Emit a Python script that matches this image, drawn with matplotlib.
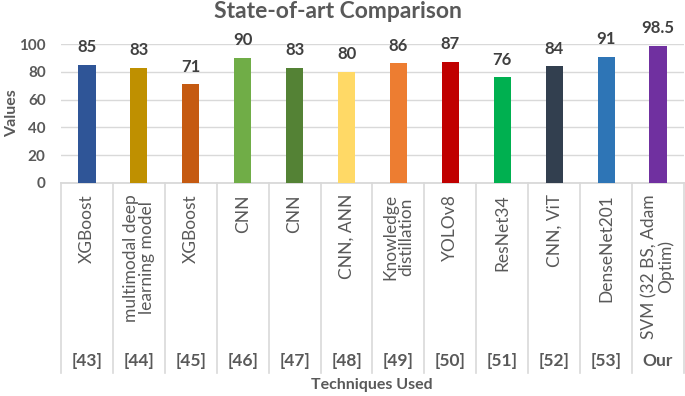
import matplotlib.pyplot as plt
import matplotlib.transforms as mtransforms
import numpy as np

# data
techniques = ["XGBoost", "multimodal deep\nlearning model", "XGBoost", "CNN", "CNN",
              "CNN, ANN", "Knowledge\ndistillation", "YOLOv8", "ResNet34", "CNN, ViT",
              "DenseNet201", "SVM (32 BS, Adam\nOptim)"]
refs = ["[43]", "[44]", "[45]", "[46]", "[47]", "[48]", "[49]", "[50]", "[51]",
        "[52]", "[53]", "Our"]
values = [85, 83, 71, 90, 83, 80, 86, 87, 76, 84, 91, 98.5]
value_labels = ["85", "83", "71", "90", "83", "80", "86", "87", "76", "84", "91", "98.5"]
colors = ["#2F5597", "#BF9000", "#C55A11", "#70AD47", "#548235", "#FFD966",
          "#ED7D31", "#C00000", "#00B050", "#323F4F", "#2E75B6", "#7030A0"]

plt.rcParams["font.family"] = ["Lato", "DejaVu Sans"]
txt = "#595959"
grid = "#D9D9D9"

fig = plt.figure(figsize=(6.85, 3.96), dpi=100)
ax = fig.add_axes([61 / 685, 1 - 183 / 396, 623 / 685, 139 / 396])

x = np.arange(len(values))
ax.bar(x, values, width=0.33, color=colors, zorder=3)
for xi, v, lab in zip(x, values, value_labels):
    ax.annotate(lab, (xi, v), xytext=(0, 7), textcoords="offset points",
                ha="center", va="bottom", fontsize=12, fontweight="bold", color="#404040")

ax.set_xlim(-0.5, len(values) - 0.5)
ax.set_ylim(0, 100)
ax.set_yticks([0, 20, 40, 60, 80, 100])
ax.tick_params(axis="y", length=0, labelsize=11, labelcolor=txt, pad=11)
for t in ax.get_yticklabels():
    t.set_fontweight("bold")
ax.set_xticks([])
ax.grid(axis="y", color=grid, linewidth=1, zorder=0)
for s in ["top", "right", "left"]:
    ax.spines[s].set_visible(False)
ax.spines["bottom"].set_color(grid)
ax.spines["bottom"].set_linewidth(1.3)

# multi-level category axis
trans = mtransforms.blended_transform_factory(ax.transData, ax.transAxes)
bottom = -(373 - 183) / 139
for b in np.arange(-0.5, len(values), 1.0):
    ax.plot([b, b], [0, bottom], transform=trans, color=grid, lw=1.2, clip_on=False)
for xi, name, r in zip(x, techniques, refs):
    ax.text(xi, -0.08, name, transform=trans, rotation=90, ha="center", va="top",
            multialignment="center", fontsize=12.5, color=txt, linespacing=1.0)
    ax.text(xi, -(361 - 183) / 139, r, transform=trans, ha="center", va="center",
            fontsize=12.5, fontweight="bold", color=txt)

fig.text(12 / 685, 1 - 113 / 396, "Values", rotation=90, ha="center", va="center",
         fontsize=11.5, fontweight="bold", color=txt)
fig.text(372 / 685, 1 - 385 / 396, "Techniques Used", ha="center", va="center",
         fontsize=11.5, fontweight="bold", color=txt)
fig.text(338 / 685, 1 - 12 / 396, "State-of-art Comparison", ha="center", va="center",
         fontsize=16.5, fontweight="bold", color=txt)

fig.savefig("out.png", dpi=100)
